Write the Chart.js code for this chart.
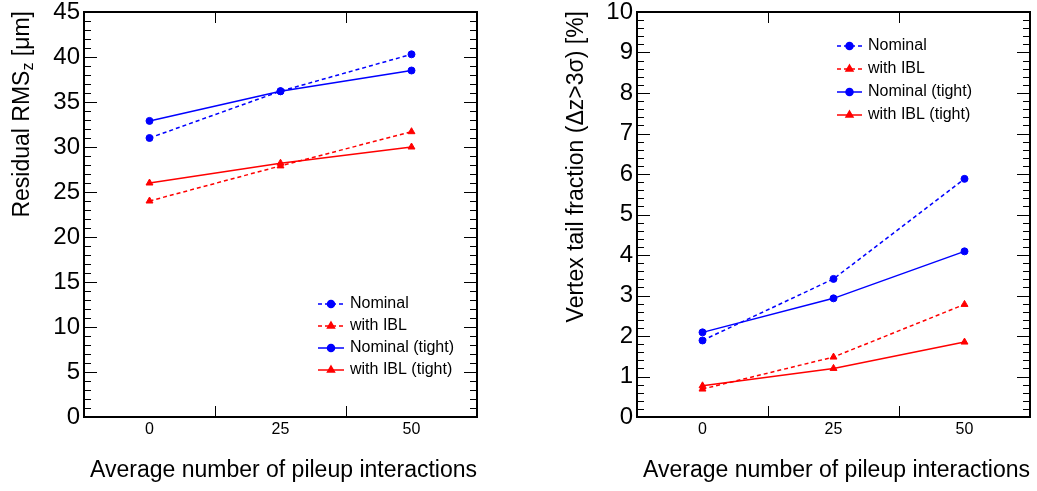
<!DOCTYPE html>
<html>
<head>
<meta charset="utf-8">
<script src="https://cdn.jsdelivr.net/npm/chart.js@4.4.1/dist/chart.umd.min.js"></script>
<style>
  html, body { margin: 0; padding: 0; background: #fff; }
  #wrap { position: relative; width: 1037px; height: 491px; }
  canvas { position: absolute; top: 0; }
</style>
</head>
<body>
<div id="wrap">
  <canvas id="rmsChart" width="518" height="491" style="left:0"></canvas>
  <canvas id="tailChart" width="519" height="491" style="left:518px"></canvas>
</div>
<script>
// pileup categories (bin centres) and bin edges
const pileup = [0, 25, 50];
const xTickLabels = [0, 25, 50];
const binEdges = [12.5, 37.5];

const seriesNames = ['Nominal', 'with IBL', 'Nominal (tight)', 'with IBL (tight)'];

// Residual RMS_z [um]
const rmsNominal = [31.0, 36.2, 40.3];
const rmsIBL = [24.0, 27.9, 31.7];
const rmsNominalTight = [32.9, 36.2, 38.5];
const rmsIBLTight = [26.0, 28.2, 30.0];

// Vertex tail fraction [%]
const tailNominal = [1.89, 3.41, 5.88];
const tailIBL = [0.69, 1.48, 2.78];
const tailNominalTight = [2.09, 2.93, 4.09];
const tailIBLTight = [0.77, 1.20, 1.85];

const FONT = '"Liberation Sans", Arial, Helvetica, sans-serif';
Chart.defaults.font.family = FONT;
Chart.defaults.color = '#000';

const buildDatasets = (nominal, ibl, nominalTight, iblTight) => {
    return [nominal, ibl, nominalTight, iblTight].map((vals, i) => {
        const blue = i % 2 === 0;
        const colour = blue ? '#0000ff' : '#ff0000';
        return {
            label: seriesNames[i],
            data: vals.map((v, j) => ({ x: pileup[j], y: v })),
            borderColor: colour,
            backgroundColor: colour,
            borderWidth: 1.5,
            borderDash: i < 2 ? [4, 3] : [],
            pointStyle: blue ? 'circle' : 'triangle',
            pointRadius: blue ? 3.5 : 4,
            pointBorderWidth: 1,
            tension: 0,
        };
    });
};

// ROOT-like frame, inner ticks, legend and y title
const rootFrame = {
    id: 'rootFrame',
    afterDatasetsDraw(chart, args, opts) {
        const { ctx, chartArea: a, scales: { x, y } } = chart;
        ctx.save();

        // ticks
        ctx.strokeStyle = '#000';
        ctx.lineWidth = 1;
        ctx.beginPath();
        const n = Math.round((y.max - y.min) / opts.yMinor);
        const perMajor = Math.round(opts.yMajor / opts.yMinor);
        for (let k = 0; k <= n; k++) {
            const py = Math.round(y.getPixelForValue(y.min + k * opts.yMinor)) + 0.5;
            const len = k % perMajor === 0 ? 13 : 7;
            ctx.moveTo(a.left, py); ctx.lineTo(a.left + len, py);
            ctx.moveTo(a.right, py); ctx.lineTo(a.right - len, py);
        }
        binEdges.forEach(v => {
            const px = Math.round(x.getPixelForValue(v)) + 0.5;
            ctx.moveTo(px, a.top); ctx.lineTo(px, a.top + 11);
            ctx.moveTo(px, a.bottom); ctx.lineTo(px, a.bottom - 11);
        });
        ctx.stroke();

        ctx.lineWidth = 2;
        ctx.strokeRect(a.left, a.top, a.right - a.left, a.bottom - a.top);

        // legend
        const lg = opts.legend;
        ctx.font = '16px ' + FONT;
        ctx.textBaseline = 'middle';
        ctx.textAlign = 'left';
        chart.data.datasets.forEach((ds, i) => {
            const ly = lg.y0 + i * lg.dy;
            ctx.strokeStyle = ds.borderColor;
            ctx.fillStyle = ds.borderColor;
            ctx.lineWidth = ds.borderWidth;
            ctx.setLineDash(ds.borderDash);
            ctx.beginPath();
            ctx.moveTo(lg.x0, ly); ctx.lineTo(lg.x1, ly);
            ctx.stroke();
            ctx.setLineDash([]);
            Chart.helpers.drawPoint(ctx, {
                pointStyle: ds.pointStyle, radius: ds.pointRadius,
                rotation: 0, borderWidth: 1
            }, (lg.x0 + lg.x1) / 2, ly);
            ctx.fillStyle = '#000';
            ctx.fillText(ds.label, lg.textX, ly);
        });

        // y title, rotated, end at top of frame
        ctx.translate(opts.titleX, a.top - 1);
        ctx.rotate(-Math.PI / 2);
        ctx.fillStyle = '#000';
        const parts = opts.yTitle.map(p => {
            ctx.font = (p.sub ? '16px ' : '23px ') + FONT;
            return { ...p, w: ctx.measureText(p.t).width };
        });
        let tx = -parts.reduce((s, p) => s + p.w, 0);
        parts.forEach(p => {
            ctx.font = (p.sub ? '16px ' : '23px ') + FONT;
            ctx.fillText(p.t, tx, p.sub ? 6 : 0);
            tx += p.w;
        });

        ctx.restore();
    }
};

const makeChart = (id, datasets, yMax, yStep, yMinor, axisWidth, padRight, frameOpts) => {
    const ctx = document.getElementById(id).getContext('2d');
    return new Chart(ctx, {
        type: 'line',
        data: { datasets },
        options: {
            responsive: false,
            animation: false,
            devicePixelRatio: 1,
            layout: { autoPadding: false, padding: { top: 12, right: padRight, bottom: 0, left: 0 } },
            scales: {
                x: {
                    type: 'linear',
                    min: -12.5,
                    max: 62.5,
                    grid: { display: false, drawTicks: false },
                    border: { display: false },
                    ticks: { font: { size: 16 }, color: '#000', padding: 3 },
                    afterBuildTicks: s => { s.ticks = xTickLabels.map(v => ({ value: v })); },
                    afterFit: s => { s.height = 74; s.paddingLeft = 0; s.paddingRight = 0; },
                    title: {
                        display: true,
                        text: 'Average number of pileup interactions',
                        align: 'end',
                        color: '#000',
                        font: { size: 23 },
                        padding: { top: 0, bottom: 7 }
                    }
                },
                y: {
                    min: 0,
                    max: yMax,
                    grid: { display: false, drawTicks: false },
                    border: { display: false },
                    ticks: { stepSize: yStep, font: { size: 24 }, color: '#000', padding: 4 },
                    afterFit: s => { s.width = axisWidth; s.paddingTop = 0; s.paddingBottom = 0; }
                }
            },
            plugins: {
                legend: { display: false },
                tooltip: { enabled: false },
                rootFrame: Object.assign({ yMajor: yStep, yMinor }, frameOpts)
            }
        },
        plugins: [rootFrame]
    });
};

makeChart('rmsChart',
    buildDatasets(rmsNominal, rmsIBL, rmsNominalTight, rmsIBLTight),
    45, 5, 1, 84, 41,
    {
        titleX: 23,
        yTitle: [{ t: 'Residual RMS' }, { t: 'z', sub: true }, { t: ' [\u03bcm]' }],
        legend: { x0: 318, x1: 344, textX: 350, y0: 304, dy: 22 }
    });

makeChart('tailChart',
    buildDatasets(tailNominal, tailIBL, tailNominalTight, tailIBLTight),
    10, 1, 0.2, 119, 7,
    {
        titleX: 59,
        yTitle: [{ t: 'Vertex tail fraction (\u0394z>3\u03c3) [%]' }],
        legend: { x0: 319, x1: 344, textX: 350, y0: 46, dy: 23 }
    });
</script>
</body>
</html>
